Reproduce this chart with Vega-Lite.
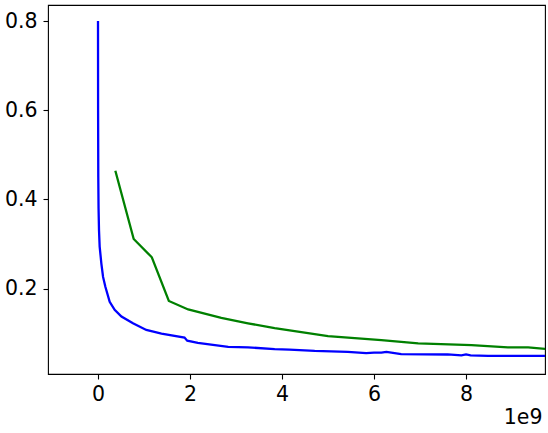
{
  "$schema": "https://vega.github.io/schema/vega-lite/v6.json",
  "autosize": {"type": "none"},
  "padding": {"left": 48, "top": 5, "right": 3, "bottom": 59},
  "width": 497,
  "height": 369,
  "background": "white",
  "config": {
    "font": "DejaVu Sans",
    "view": {"stroke": "black", "strokeWidth": 1.1},
    "axis": {
      "domain": false,
      "grid": false,
      "ticks": true,
      "tickColor": "black",
      "tickWidth": 1.1,
      "tickSize": 5,
      "labelFont": "DejaVu Sans",
      "labelFontSize": 20.5,
      "labelColor": "black",
      "labelPadding": 5,
      "titleFont": "DejaVu Sans",
      "titleFontSize": 20.5,
      "titleFontWeight": "normal",
      "titleColor": "black"
    }
  },
  "data": {
    "values": [
      {"s": "blue", "i": 0, "x": 0, "y": 0.8},
      {"s": "blue", "i": 1, "x": 2e6, "y": 0.6},
      {"s": "blue", "i": 2, "x": 6e6, "y": 0.45},
      {"s": "blue", "i": 3, "x": 1.2e7, "y": 0.38},
      {"s": "blue", "i": 4, "x": 2.2e7, "y": 0.33},
      {"s": "blue", "i": 5, "x": 3.6e7, "y": 0.294},
      {"s": "blue", "i": 6, "x": 7.3e7, "y": 0.256},
      {"s": "blue", "i": 7, "x": 1.1e8, "y": 0.226},
      {"s": "blue", "i": 8, "x": 1.6e8, "y": 0.204},
      {"s": "blue", "i": 9, "x": 2.54e8, "y": 0.17},
      {"s": "blue", "i": 10, "x": 3.62e8, "y": 0.152},
      {"s": "blue", "i": 11, "x": 5.1e8, "y": 0.137},
      {"s": "blue", "i": 12, "x": 7.6e8, "y": 0.122},
      {"s": "blue", "i": 13, "x": 1.05e9, "y": 0.107},
      {"s": "blue", "i": 14, "x": 1.38e9, "y": 0.099},
      {"s": "blue", "i": 15, "x": 1.88e9, "y": 0.09},
      {"s": "blue", "i": 16, "x": 1.94e9, "y": 0.083},
      {"s": "blue", "i": 17, "x": 2.17e9, "y": 0.078},
      {"s": "blue", "i": 18, "x": 2.83e9, "y": 0.069},
      {"s": "blue", "i": 19, "x": 3.26e9, "y": 0.068},
      {"s": "blue", "i": 20, "x": 3.84e9, "y": 0.064},
      {"s": "blue", "i": 21, "x": 4.16e9, "y": 0.063},
      {"s": "blue", "i": 22, "x": 4.71e9, "y": 0.06},
      {"s": "blue", "i": 23, "x": 5.43e9, "y": 0.058},
      {"s": "blue", "i": 24, "x": 5.83e9, "y": 0.055},
      {"s": "blue", "i": 25, "x": 6.0e9, "y": 0.056},
      {"s": "blue", "i": 26, "x": 6.16e9, "y": 0.056},
      {"s": "blue", "i": 27, "x": 6.27e9, "y": 0.058},
      {"s": "blue", "i": 28, "x": 6.59e9, "y": 0.053},
      {"s": "blue", "i": 29, "x": 7.6e9, "y": 0.052},
      {"s": "blue", "i": 30, "x": 7.9e9, "y": 0.05},
      {"s": "blue", "i": 31, "x": 8.0e9, "y": 0.052},
      {"s": "blue", "i": 32, "x": 8.1e9, "y": 0.05},
      {"s": "blue", "i": 33, "x": 8.48e9, "y": 0.049},
      {"s": "blue", "i": 34, "x": 9.0e9, "y": 0.049},
      {"s": "blue", "i": 35, "x": 9.8e9, "y": 0.049},
      {"s": "green", "i": 0, "x": 3.77e8, "y": 0.464},
      {"s": "green", "i": 1, "x": 7.76e8, "y": 0.311},
      {"s": "green", "i": 2, "x": 1.17e9, "y": 0.27},
      {"s": "green", "i": 3, "x": 1.54e9, "y": 0.172},
      {"s": "green", "i": 4, "x": 1.96e9, "y": 0.153},
      {"s": "green", "i": 5, "x": 2.68e9, "y": 0.134},
      {"s": "green", "i": 6, "x": 3.26e9, "y": 0.122},
      {"s": "green", "i": 7, "x": 3.84e9, "y": 0.111},
      {"s": "green", "i": 8, "x": 5.0e9, "y": 0.093},
      {"s": "green", "i": 9, "x": 6.16e9, "y": 0.084},
      {"s": "green", "i": 10, "x": 6.96e9, "y": 0.077},
      {"s": "green", "i": 11, "x": 8.12e9, "y": 0.073},
      {"s": "green", "i": 12, "x": 8.91e9, "y": 0.068},
      {"s": "green", "i": 13, "x": 9.35e9, "y": 0.068},
      {"s": "green", "i": 14, "x": 9.8e9, "y": 0.064}
    ]
  },
  "mark": {"type": "line", "strokeWidth": 2.3, "clip": true},
  "encoding": {
    "x": {
      "field": "x",
      "type": "quantitative",
      "scale": {"domain": [-1.087e9, 9.717e9], "nice": false, "zero": false},
      "axis": {
        "values": [0, 2e9, 4e9, 6e9, 8e9],
        "labelExpr": "format(datum.value / 1e9, 'd')",
        "title": "1e9",
        "titleX": 494,
        "titleAlign": "right",
        "titlePadding": 3
      }
    },
    "y": {
      "field": "y",
      "type": "quantitative",
      "scale": {"domain": [0.0082, 0.836], "nice": false, "zero": false},
      "axis": {"values": [0.2, 0.4, 0.6, 0.8], "format": ".1f", "title": null, "labelPadding": 6}
    },
    "color": {
      "field": "s",
      "type": "nominal",
      "scale": {"domain": ["blue", "green"], "range": ["#0000ff", "#008000"]},
      "legend": null
    },
    "order": {"field": "i", "type": "quantitative"}
  }
}
